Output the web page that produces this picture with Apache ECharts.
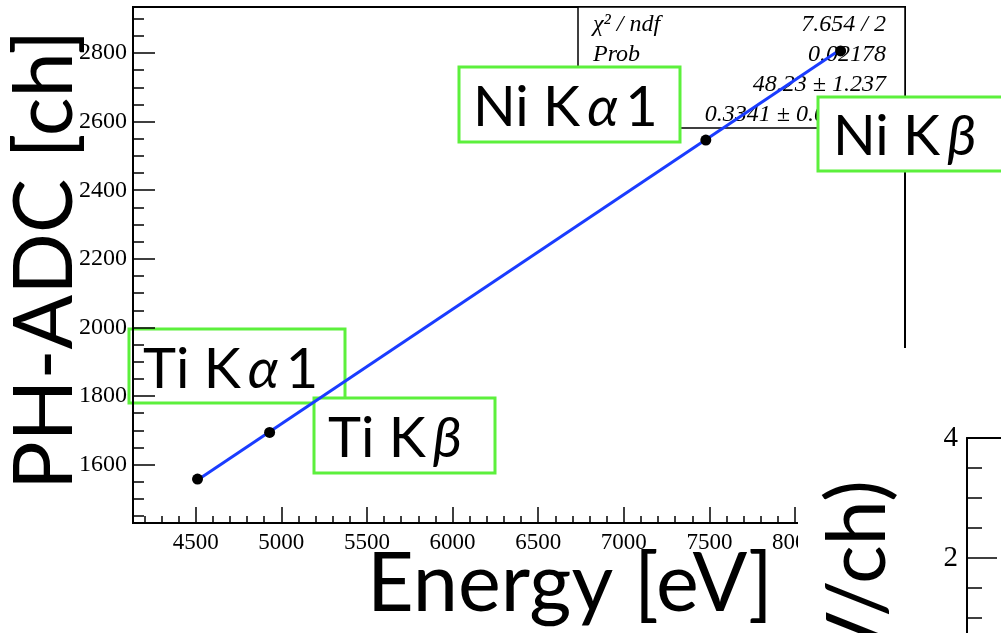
<!DOCTYPE html>
<html>
<head>
<meta charset="utf-8">
<script src="https://cdn.jsdelivr.net/npm/echarts@6/dist/echarts.min.js"></script>
<style>html,body{margin:0;padding:0;background:#fff}#c{width:1001px;height:633px}</style>
</head>
<body>
<div id="c"></div>
<script>
// ---- data ----
const lineNames = ['Ti Kα1', 'Ti Kβ', 'Ni Kα1', 'Ni Kβ'];
const energies = [4510.8, 4931.8, 7479, 8266];
const adcValues = [1558, 1694, 2546, 2806];
const fitX = [4511, 8265];
const fitY = [1555, 2810];
const xMajorTicks = [4500, 5000, 5500, 6000, 6500, 7000, 7500, 8000, 8500];
const yMajorTicks = [1600, 1800, 2000, 2200, 2400, 2600, 2800];
const statsLabels = ['χ² / ndf', 'Prob', 'p0', 'p1'];
const statsValues = ['7.654 / 2', '0.02178', '48.23 ± 1.237', '0.3341 ± 0.000191'];
const lowerTicks = [-2, 0, 2, 4];

// minor tick positions (axis decoration)
const xMinorTicks = [];
for (let v = 4200; v <= 8600; v += 100) if (v % 500) xMinorTicks.push(v);
const yMinorTicks = [];
for (let v = 1450; v <= 2900; v += 50) if (v % 200) yMinorTicks.push(v);

const X_MIN = 4134, X_MAX = 8642, Y_MIN = 1430, Y_MAX = 2934;

const chart = echarts.init(document.getElementById('c'), null, {renderer: 'canvas'});
const serif = '"Liberation Serif", "DejaVu Serif", serif';
const sans = 'Lato, "Open Sans", sans-serif';
const green = '#5cf03c';
const plain = v => String(v);

const gridRect = {left: 133, top: 7, width: 772, height: 516};

// label text: element symbol + line family + greek letter (italic) + index
function boxLabel(el, greek, idx, x, y, w, h, tx, ty) {
  return [
    {type: 'rect', z: 2, shape: {x: x, y: y, width: w, height: h},
     style: {fill: '#fff', stroke: green, lineWidth: 3}},
    {type: 'text', z: 2, x: tx, y: ty,
     style: {text: el + ' K\u2009{g|' + greek + '}' + (idx ? '\u2009' + idx : ''), fill: '#000',
       font: '56px ' + sans, textAlign: 'left', textVerticalAlign: 'middle',
       rich: {g: {fontFamily: sans, fontSize: 56, fontStyle: 'italic', fill: '#000'}}}}
  ];
}

const graphics = [];
// stats box
graphics.push({type: 'rect', z: 1, shape: {x: 578, y: 7, width: 327, height: 121},
  style: {fill: '#fff', stroke: '#000', lineWidth: 1.5}});
statsLabels.forEach((t, i) => {
  graphics.push({type: 'text', z: 1, x: 593, y: 25 + i * 30,
    style: {text: t, fill: '#000', font: 'italic 24px ' + serif, textAlign: 'left', textVerticalAlign: 'middle'}});
  graphics.push({type: 'text', z: 1, x: 886, y: 25 + i * 30,
    style: {text: statsValues[i], fill: '#000', font: 'italic 24px ' + serif, textAlign: 'right', textVerticalAlign: 'middle'}});
});
graphics.push(...boxLabel('Ti', 'α', '1', 129, 329, 216, 74, 143, 370));
graphics.push(...boxLabel('Ti', 'β', '', 314, 398, 181, 75, 328, 439));
graphics.push(...boxLabel('Ni', 'α', '1', 459, 67, 221, 75, 473, 108));
graphics.push(...boxLabel('Ni', 'β', '', 818, 97, 220, 74, 833, 137));
// axis titles
graphics.push({type: 'text', z: 4, x: 570, y: 585,
  style: {text: 'Energy [eV]', fill: '#000', font: '81px ' + sans, textAlign: 'center', textVerticalAlign: 'middle'}});
graphics.push({type: 'text', z: 4, x: 46, y: 260, rotation: Math.PI / 2,
  style: {text: 'PH-ADC [ch]', fill: '#000', font: '81px ' + sans, textAlign: 'center', textVerticalAlign: 'middle'}});
// overlapping lower-right pad
graphics.push({type: 'rect', z: 8, shape: {x: 798, y: 348, width: 210, height: 290},
  style: {fill: '#fff', stroke: null}});
graphics.push({type: 'text', z: 10, x: 859, y: 480, rotation: Math.PI / 2,
  style: {text: 'Gain (eV/ch)', fill: '#000', font: '81px ' + sans, textAlign: 'right', textVerticalAlign: 'middle'}});

const axisLineStyle = {color: '#000', width: 2};

const option = {
  animation: false,
  backgroundColor: '#fff',
  grid: [
    Object.assign({show: true, borderColor: '#000', borderWidth: 2, backgroundColor: 'transparent', outerBoundsMode: 'none', containLabel: false}, gridRect),
    Object.assign({show: false, outerBoundsMode: 'none', containLabel: false}, gridRect),
    {show: false, left: 967, top: 438, width: 300, height: 360, outerBoundsMode: 'none', containLabel: false}
  ],
  xAxis: [
    {type: 'value', gridIndex: 0, min: X_MIN, max: X_MAX, z: 3,
     axisLine: {show: true, onZero: false, lineStyle: axisLineStyle},
     axisTick: {show: true, inside: true, length: 16, lineStyle: {color: '#000', width: 1.5}, customValues: xMajorTicks},
     axisLabel: {show: true, customValues: xMajorTicks, formatter: plain, color: '#000', fontFamily: serif, fontSize: 23, margin: 8},
     splitLine: {show: false}},
    {type: 'value', gridIndex: 1, min: X_MIN, max: X_MAX, z: 3,
     axisLine: {show: false},
     axisTick: {show: true, inside: true, length: 7, lineStyle: {color: '#000', width: 1.5}, customValues: xMinorTicks},
     axisLabel: {show: false}, splitLine: {show: false}},
    {type: 'value', gridIndex: 2, position: 'top', min: 0, max: 1, z: 10,
     axisLine: {show: true, onZero: false, lineStyle: axisLineStyle},
     axisTick: {show: false}, axisLabel: {show: false}, splitLine: {show: false}}
  ],
  yAxis: [
    {type: 'value', gridIndex: 0, min: Y_MIN, max: Y_MAX, z: 3,
     axisLine: {show: true, onZero: false, lineStyle: axisLineStyle},
     axisTick: {show: true, inside: true, length: 22, lineStyle: {color: '#000', width: 1.5}, customValues: yMajorTicks},
     axisLabel: {show: true, customValues: yMajorTicks, formatter: plain, color: '#000', fontFamily: serif, fontSize: 24, margin: 6},
     splitLine: {show: false}},
    {type: 'value', gridIndex: 1, min: Y_MIN, max: Y_MAX, z: 3,
     axisLine: {show: false},
     axisTick: {show: true, inside: true, length: 11, lineStyle: {color: '#000', width: 1.5}, customValues: yMinorTicks},
     axisLabel: {show: false}, splitLine: {show: false}},
    {type: 'value', gridIndex: 2, min: lowerTicks[0], max: lowerTicks[lowerTicks.length - 1], interval: 2, z: 10,
     axisLine: {show: true, onZero: false, lineStyle: axisLineStyle},
     axisTick: {show: true, inside: true, length: 30, lineStyle: {color: '#000', width: 1.5}},
     minorTick: {show: true, splitNumber: 4, length: 15, lineStyle: {color: '#000', width: 1.5}},
     axisLabel: {show: true, formatter: plain, color: '#000', fontFamily: serif, fontSize: 29, margin: 9},
     splitLine: {show: false}, minorSplitLine: {show: false}}
  ],
  graphic: {elements: graphics},
  series: [
    {type: 'line', name: 'fit', xAxisIndex: 0, yAxisIndex: 0, z: 5,
     data: fitX.map((x, i) => [x, fitY[i]]), symbol: 'none',
     lineStyle: {color: '#1a3cff', width: 3}},
    {type: 'scatter', name: 'peaks', xAxisIndex: 0, yAxisIndex: 0, z: 6,
     data: energies.map((x, i) => ({value: [x, adcValues[i]], name: lineNames[i]})),
     symbol: 'circle', symbolSize: 11, itemStyle: {color: '#000', opacity: 1}}
  ]
};
chart.setOption(option);
</script>
</body>
</html>
